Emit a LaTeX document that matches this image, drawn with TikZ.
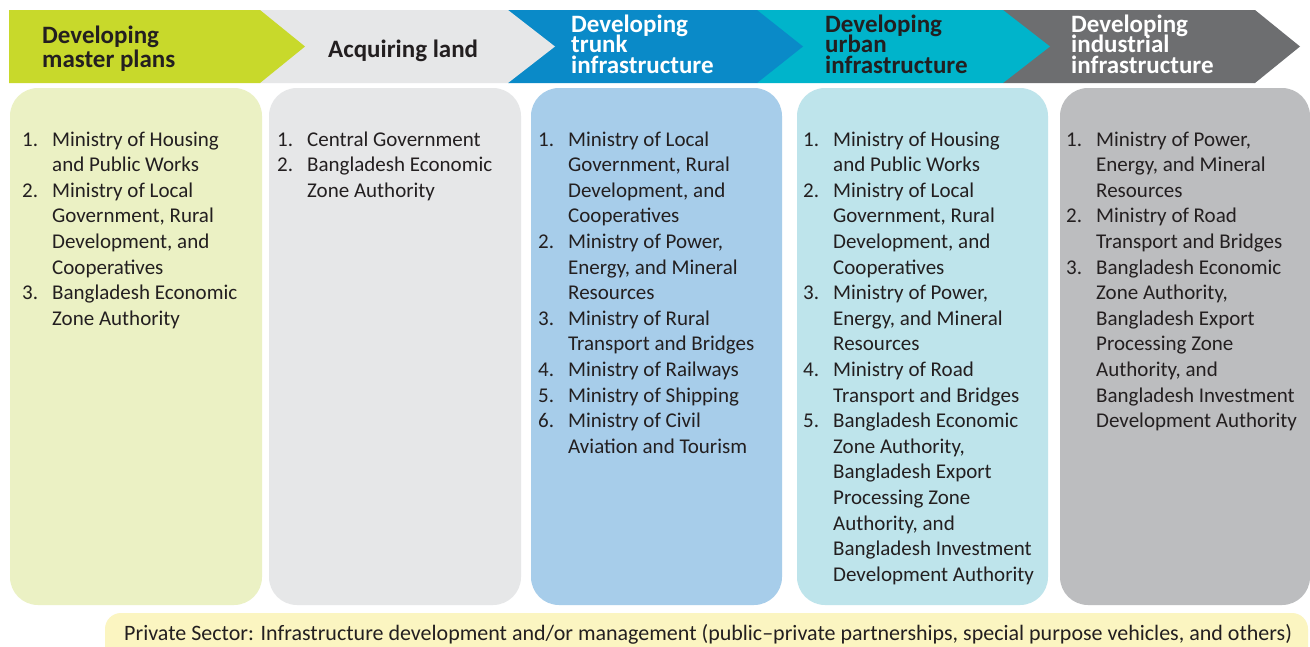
\documentclass[tikz,border=0pt]{standalone}
\usepackage{fontspec}
\setmainfont{Carlito}
\usepackage{array}
\definecolor{ink}{HTML}{231F20}
\definecolor{hgreen}{HTML}{C8D92B}
\definecolor{bgreen}{HTML}{EBF1C4}
\definecolor{hlgray}{HTML}{E6E7E8}
\definecolor{blgray}{HTML}{E6E7E8}
\definecolor{hblue}{HTML}{0A8AC8}
\definecolor{bblue}{HTML}{A7CDEA}
\definecolor{hcyan}{HTML}{00B4CB}
\definecolor{bcyan}{HTML}{BEE4EB}
\definecolor{hdgray}{HTML}{6D6E70}
\definecolor{bdgray}{HTML}{BCBDBF}
\definecolor{footfill}{HTML}{FBF5C1}
\newcommand\bodyfont{\fontsize{21}{25.6}\selectfont}
\newcommand\footfont{\fontsize{22}{26}\selectfont}
\newcommand\headfont{\fontsize{25}{27}\selectfont\bfseries}
\newcommand\lst[1]{\begin{tabular}[t]{@{}p{30pt}@{}l@{}}#1\end{tabular}}
\tikzset{
  listtext/.style={anchor=base west, inner sep=0pt, font=\bodyfont, text=ink},
  headtext/.style={anchor=base west, inner sep=0pt, font=\headfont, text height=15pt, text depth=3pt},
  panel/.style={rounded corners=28pt},
}
\begin{document}
\begin{tikzpicture}[x=1pt,y=-1pt]
\useasboundingbox (0,0) rectangle (1310,646);
\fill[white] (0,0) rectangle (1310,646);
% header chevrons
\fill[hdgray] (1003,10) -- (1255,10) -- (1300,46.5) -- (1255,83) -- (1003,83) -- cycle;
\fill[hcyan] (757,10) -- (1003,10) -- (1050,46.5) -- (1003,83) -- (757,83) -- cycle;
\fill[hblue] (508,10) -- (757,10) -- (803,46.5) -- (757,83) -- (508,83) -- cycle;
\fill[hlgray] (260,10) -- (508,10) -- (555,46.5) -- (508,83) -- (260,83) -- cycle;
\fill[hgreen] (9,10) -- (260,10) -- (305,46.5) -- (260,83) -- (9,83) -- cycle;
% header texts
\node[headtext, text=ink] (h1a) at (42,43) {Developing};
\node[headtext, text=ink] (h1b) at (42,67) {master plans};
\node[headtext, text=ink] (h2) at (328,57) {Acquiring land};
\node[headtext, text=white] (h3a) at (571,32) {Developing};
\node[headtext, text=white] (h3b) at (571,52.5) {trunk};
\node[headtext, text=white] (h3c) at (571,73) {infrastructure};
\node[headtext, text=ink] (h4a) at (825,32) {Developing};
\node[headtext, text=ink] (h4b) at (825,52.5) {urban};
\node[headtext, text=ink] (h4c) at (825,73) {infrastructure};
\node[headtext, text=white] (h5a) at (1071,32) {Developing};
\node[headtext, text=white] (h5b) at (1071,52.5) {industrial};
\node[headtext, text=white] (h5c) at (1071,73) {infrastructure};
% panels
\fill[panel, bgreen] (10,88) rectangle (262,605);
\fill[panel, blgray] (269,88) rectangle (521,605);
\fill[panel, bblue] (531,88) rectangle (782,605);
\fill[panel, bcyan] (797,88) rectangle (1048,605);
\fill[panel, bdgray] (1060,88) rectangle (1310,605);
% lists
\node[listtext] (l1) at (22,146) {\lst{%
1. & Ministry of Housing\\
   & and Public Works\\
2. & Ministry of Local\\
   & Government, Rural\\
   & Development, and\\
   & Cooperatives\\
3. & Bangladesh Economic\\
   & Zone Authority}};
\node[listtext] (l2) at (277,146) {\lst{%
1. & Central Government\\
2. & Bangladesh Economic\\
   & Zone Authority}};
\node[listtext] (l3) at (538,146) {\lst{%
1. & Ministry of Local\\
   & Government, Rural\\
   & Development, and\\
   & Cooperatives\\
2. & Ministry of Power,\\
   & Energy, and Mineral\\
   & Resources\\
3. & Ministry of Rural\\
   & Transport and Bridges\\
4. & Ministry of Railways\\
5. & Ministry of Shipping\\
6. & Ministry of Civil\\
   & Aviation and Tourism}};
\node[listtext] (l4) at (803,146) {\lst{%
1. & Ministry of Housing\\
   & and Public Works\\
2. & Ministry of Local\\
   & Government, Rural\\
   & Development, and\\
   & Cooperatives\\
3. & Ministry of Power,\\
   & Energy, and Mineral\\
   & Resources\\
4. & Ministry of Road\\
   & Transport and Bridges\\
5. & Bangladesh Economic\\
   & Zone Authority,\\
   & Bangladesh Export\\
   & Processing Zone\\
   & Authority, and\\
   & Bangladesh Investment\\
   & Development Authority}};
\node[listtext] (l5) at (1066,146) {\lst{%
1. & Ministry of Power,\\
   & Energy, and Mineral\\
   & Resources\\
2. & Ministry of Road\\
   & Transport and Bridges\\
3. & Bangladesh Economic\\
   & Zone Authority,\\
   & Bangladesh Export\\
   & Processing Zone\\
   & Authority, and\\
   & Bangladesh Investment\\
   & Development Authority}};
% footer
\begin{scope}
\clip (0,0) rectangle (1310,646);
\fill[footfill, rounded corners=16pt] (105,613) rectangle (1308,680);
\end{scope}
\node[listtext, font=\footfont] (foot) at (124,640) {Private Sector: Infrastructure development and/or management (public–private partnerships, special purpose vehicles, and others)};
\end{tikzpicture}
\end{document}
